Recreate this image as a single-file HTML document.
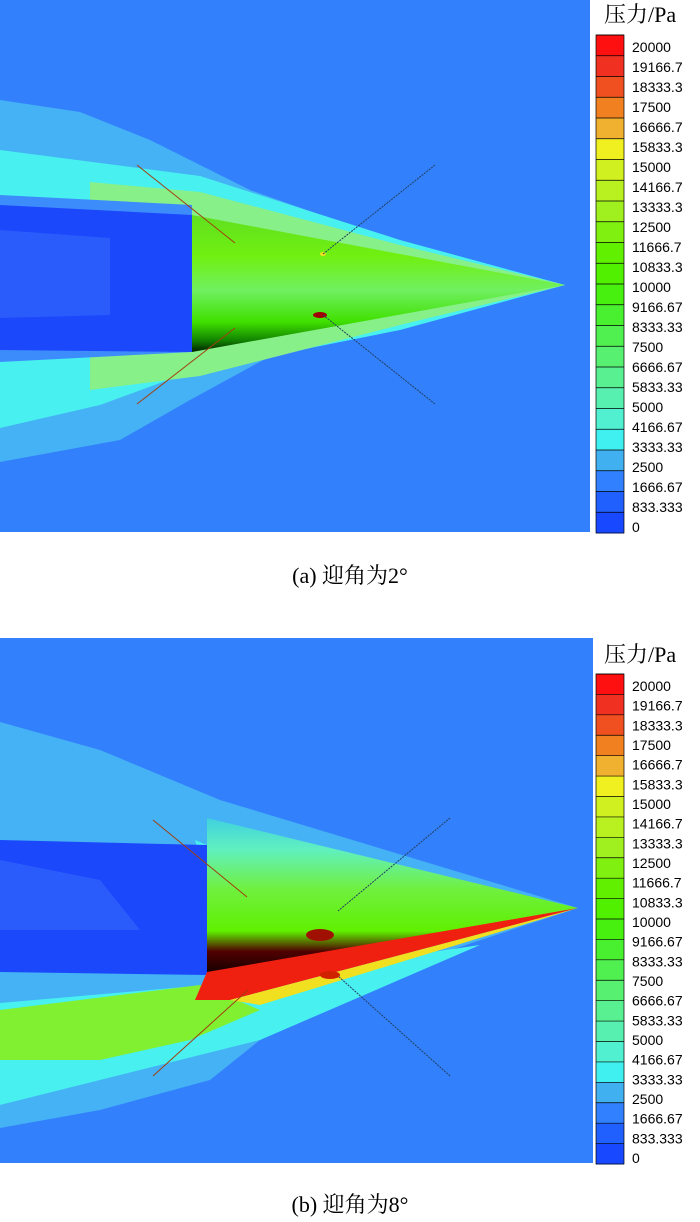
<!DOCTYPE html>
<html><head><meta charset="utf-8"><style>
body{margin:0;background:#fff;width:700px;height:1222px;overflow:hidden;font-family:"Liberation Sans",sans-serif}
svg{display:block}
</style></head><body>
<svg width="700" height="1222" viewBox="0 0 700 1222" xmlns="http://www.w3.org/2000/svg">
<defs>
<linearGradient id="c1" x1="0" y1="0" x2="0" y2="1">
<stop offset="0" stop-color="#60e020"/><stop offset="0.3" stop-color="#70f010"/><stop offset="0.55" stop-color="#70f060"/><stop offset="0.78" stop-color="#40e000"/><stop offset="0.92" stop-color="#108000"/><stop offset="1" stop-color="#002000"/>
</linearGradient>
<linearGradient id="c2" x1="0" y1="0" x2="0" y2="1">
<stop offset="0" stop-color="#40d0e0"/><stop offset="0.2" stop-color="#60f0c0"/><stop offset="0.45" stop-color="#70f040"/><stop offset="0.72" stop-color="#60f000"/><stop offset="0.85" stop-color="#500000"/><stop offset="1" stop-color="#100000"/>
</linearGradient>
</defs>
<!-- panel a -->
<rect x="0" y="0" width="590" height="532" fill="#3380fc"/>
<polygon points="0,100 80,112 150,140 250,190 420,250 565,285 420,320 300,340 190,400 120,440 0,462" fill="#44b2f4"/>
<polygon points="0,150 200,176 400,240 565,285 400,330 190,372 100,405 0,428" fill="#48f0f0"/>
<polygon points="90,182 200,192 400,245 565,285 400,325 200,376 90,390" fill="#88f088"/>
<polygon points="0,195 192,205 192,352 0,362" fill="#3c8cfc"/>
<polygon points="0,205 192,215 192,352 0,350" fill="#1c48fc"/>
<polygon points="0,230 110,238 110,315 0,318" fill="#2a5cfc"/>
<polygon points="192,215 565,285 192,352" fill="url(#c1)"/>
<ellipse cx="320" cy="315" rx="7" ry="3" fill="#a00000"/>
<ellipse cx="323" cy="254" rx="3" ry="2" fill="#f0e020"/>
<line x1="137" y1="165" x2="235" y2="243" stroke="#a04010" stroke-width="1"/>
<line x1="137" y1="404" x2="235" y2="328" stroke="#a04010" stroke-width="1"/>
<line x1="435" y1="165" x2="323" y2="254" stroke="#204060" stroke-width="1" stroke-dasharray="2,1"/>
<line x1="435" y1="404" x2="323" y2="315" stroke="#204060" stroke-width="1" stroke-dasharray="2,1"/>
<!-- panel b -->
<rect x="0" y="638" width="593" height="525" fill="#3380fc"/>
<polygon points="0,722 100,750 220,800 578,908 420,960 260,1040 210,1080 100,1110 0,1128" fill="#44b2f4"/>
<polygon points="0,805 150,820 200,840 207,860 0,855" fill="#44b2f4"/>
<polygon points="195,840 290,880 207,880" fill="#48f0f0"/>
<polygon points="0,840 207,845 207,975 0,972" fill="#1c48fc"/>
<polygon points="0,860 100,880 140,930 0,930" fill="#2a5cfc"/>
<polygon points="0,1003 207,985 480,945 260,1040 160,1065 0,1105" fill="#48f0f0"/>
<polygon points="0,1010 200,985 260,1010 190,1040 100,1060 0,1060" fill="#80f030"/>
<polygon points="207,818 578,908 207,975" fill="url(#c2)"/>
<polygon points="207,972 578,908 230,1000 195,1000" fill="#f02010"/>
<polygon points="230,1000 578,908 260,1005" fill="#f0e020"/>
<ellipse cx="330" cy="975" rx="10" ry="4" fill="#d02000"/>
<ellipse cx="320" cy="935" rx="14" ry="6" fill="#a01000"/>
<line x1="153" y1="820" x2="247" y2="897" stroke="#a04010" stroke-width="1"/>
<line x1="153" y1="1076" x2="248" y2="990" stroke="#a04010" stroke-width="1"/>
<line x1="450" y1="818" x2="338" y2="911" stroke="#204060" stroke-width="1" stroke-dasharray="2,1"/>
<line x1="450" y1="1076" x2="338" y2="976" stroke="#204060" stroke-width="1" stroke-dasharray="2,1"/>
<text x="604" y="22" font-family="Liberation Serif,'Noto Serif CJK SC',serif" font-size="22">压力/Pa</text>
<text x="604" y="662" font-family="Liberation Serif,'Noto Serif CJK SC',serif" font-size="22">压力/Pa</text>
<text x="350" y="583" text-anchor="middle" font-family="'Liberation Serif','Noto Serif CJK SC',serif" font-size="22">(a) 迎角为2°</text>
<text x="350" y="1212" text-anchor="middle" font-family="'Liberation Serif','Noto Serif CJK SC',serif" font-size="22">(b) 迎角为8°</text>
<g id="bars"></g>
</svg>
<script>
var cols=["#ff1010","#f03020","#f05020","#f08020","#f0b030","#f0f020","#d0f020","#b8f020","#a0f020","#80f010","#60f000","#50f000","#48f010","#48f030","#50f050","#58f070","#58f090","#58f0b0","#50f0d0","#40f0f0","#40b0f0","#3080ff","#2060ff","#1848ff"];
var labs=["20000","19166.7","18333.3","17500","16666.7","15833.3","15000","14166.7","13333.3","12500","11666.7","10833.3","10000","9166.67","8333.33","7500","6666.67","5833.33","5000","4166.67","3333.33","2500","1666.67","833.333","0"];
var g=document.getElementById("bars"),s="";
[[35,533,47],[674,1164,686]].forEach(function(p){
 var h=(p[1]-p[0])/24;
 for(var i=0;i<24;i++){s+='<rect x="596" y="'+(p[0]+i*h)+'" width="28" height="'+(h+0.5)+'" fill="'+cols[i]+'"/>';
  s+='<line x1="596" x2="624" y1="'+(p[0]+i*h)+'" y2="'+(p[0]+i*h)+'" stroke="#000" stroke-width="0.7"/>';}
 s+='<rect x="596" y="'+p[0]+'" width="28" height="'+(p[1]-p[0])+'" fill="none" stroke="#000" stroke-width="0.7"/>';
 var lh=(p[1]-p[0]-18)/24;
 for(var j=0;j<25;j++)s+='<text x="632" y="'+(p[2]+j*lh+5)+'" font-size="14">'+labs[j]+'</text>';
});
g.innerHTML=s;
</script>
</body></html>
